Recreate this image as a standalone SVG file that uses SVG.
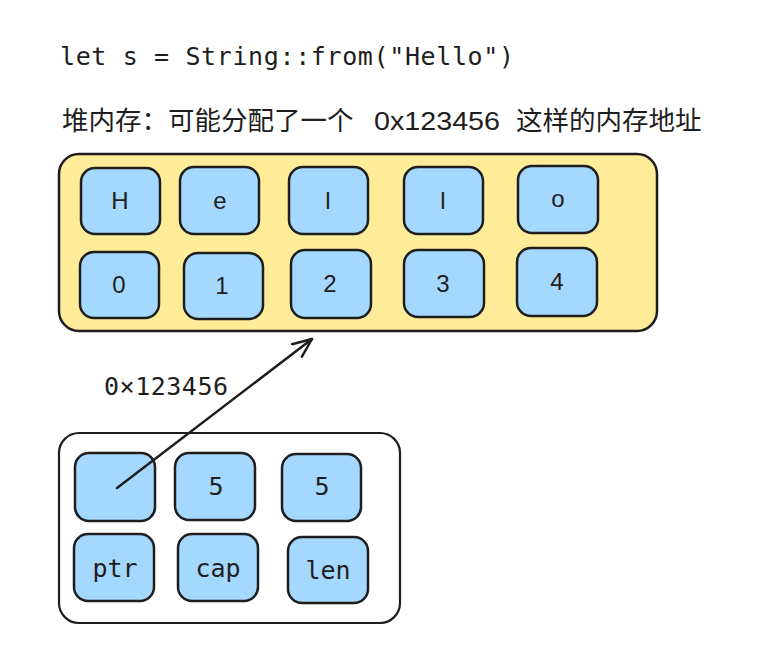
<svg xmlns="http://www.w3.org/2000/svg" width="762" height="653" viewBox="0 0 762 653">
  <style>
    .mono { font-family: "DejaVu Sans Mono", "Liberation Mono", monospace; font-size: 25px; fill: #1e1e1e; }
    .cjk { font-family: "Noto Sans CJK SC", "Noto Sans", sans-serif; font-size: 26.5px; fill: #1e1e1e; }
    .hand { font-family: "Liberation Sans", "Noto Sans", sans-serif; font-size: 24px; fill: #1e1e1e; text-anchor: middle; }
    .cell { fill: #a5d8ff; stroke: #1e1e1e; stroke-width: 2.5; }
    .heap { fill: #ffec99; stroke: #1e1e1e; stroke-width: 2.5; }
    .stack { fill: #ffffff; stroke: #1e1e1e; stroke-width: 2.2; }
    .lbl { text-anchor: middle; }
    .conn { fill: none; stroke: #1e1e1e; stroke-width: 2.5; stroke-linecap: round; }
  </style>
  <defs>
    <marker id="arrow" markerUnits="userSpaceOnUse" viewBox="0 0 22 22" refX="20" refY="11" markerWidth="22" markerHeight="22" orient="auto">
      <path d="M1,3 L20,11 L1,19" fill="none" stroke="#1e1e1e" stroke-width="2.5" stroke-linecap="round" stroke-linejoin="round"/>
    </marker>
  </defs>
  <rect width="762" height="653" fill="#ffffff"/>

  <g id="code-title">
    <text class="mono" x="60" y="65" textLength="454" lengthAdjust="spacing">let s = String::from("Hello")</text>
  </g>
  <g id="heap-caption">
    <text class="cjk" x="62" y="130">堆内存：可能分配了一个</text>
    <text x="374" y="130" font-family="Liberation Sans, sans-serif" font-size="25" fill="#1e1e1e" textLength="126" lengthAdjust="spacingAndGlyphs">0x123456</text>
    <text class="cjk" x="516" y="130">这样的内存地址</text>
  </g>

  <g id="heap">
    <rect class="heap" x="59" y="154" width="598" height="177" rx="20"/>
  </g>
  <g id="heap-H"><rect class="cell" x="81" y="168" width="79" height="66" rx="14"/><text class="hand" x="120" y="209">H</text></g>
  <g id="heap-e"><rect class="cell" x="180" y="167" width="79" height="67" rx="14"/><text class="hand" x="220" y="209">e</text></g>
  <g id="heap-l1"><rect class="cell" x="289" y="167" width="79" height="67" rx="14"/><text class="hand" x="328" y="209">l</text></g>
  <g id="heap-l2"><rect class="cell" x="404" y="167" width="79" height="67" rx="14"/><text class="hand" x="443" y="209">l</text></g>
  <g id="heap-o"><rect class="cell" x="518" y="166" width="80" height="67" rx="14"/><text class="hand" x="558" y="207">o</text></g>
  <g id="heap-0"><rect class="cell" x="80" y="252" width="79" height="66" rx="14"/><text class="hand" x="119" y="293">0</text></g>
  <g id="heap-1"><rect class="cell" x="184" y="253" width="79" height="66" rx="14"/><text class="hand" x="222" y="294">1</text></g>
  <g id="heap-2"><rect class="cell" x="291" y="250" width="80" height="68" rx="14"/><text class="hand" x="330" y="292">2</text></g>
  <g id="heap-3"><rect class="cell" x="404" y="250" width="80" height="67" rx="14"/><text class="hand" x="443" y="292">3</text></g>
  <g id="heap-4"><rect class="cell" x="517" y="248" width="80" height="68" rx="14"/><text class="hand" x="557" y="290">4</text></g>

  <g id="stack">
    <rect class="stack" x="59" y="433" width="341" height="190" rx="20"/>
  </g>
  <g id="stack-ptr-val"><rect class="cell" x="75" y="453" width="80" height="68" rx="14"/></g>
  <g id="stack-cap-val"><rect class="cell" x="175" y="453" width="80" height="67" rx="14"/><text class="mono lbl" x="216" y="495">5</text></g>
  <g id="stack-len-val"><rect class="cell" x="282" y="454" width="79" height="67" rx="14"/><text class="mono lbl" x="322" y="495">5</text></g>
  <g id="stack-ptr"><rect class="cell" x="74" y="534" width="80" height="67" rx="14"/><text class="mono lbl" x="115" y="577">ptr</text></g>
  <g id="stack-cap"><rect class="cell" x="178" y="534" width="80" height="67" rx="14"/><text class="mono lbl" x="218" y="577">cap</text></g>
  <g id="stack-len"><rect class="cell" x="288" y="537" width="80" height="66" rx="14"/><text class="mono lbl" x="328" y="579">len</text></g>

  <g id="connectors">
    <line class="conn" x1="117" y1="488" x2="312" y2="339" marker-end="url(#arrow)"/>
    <text class="mono" x="104" y="395" textLength="124" lengthAdjust="spacing">0×123456</text>
  </g>
</svg>
